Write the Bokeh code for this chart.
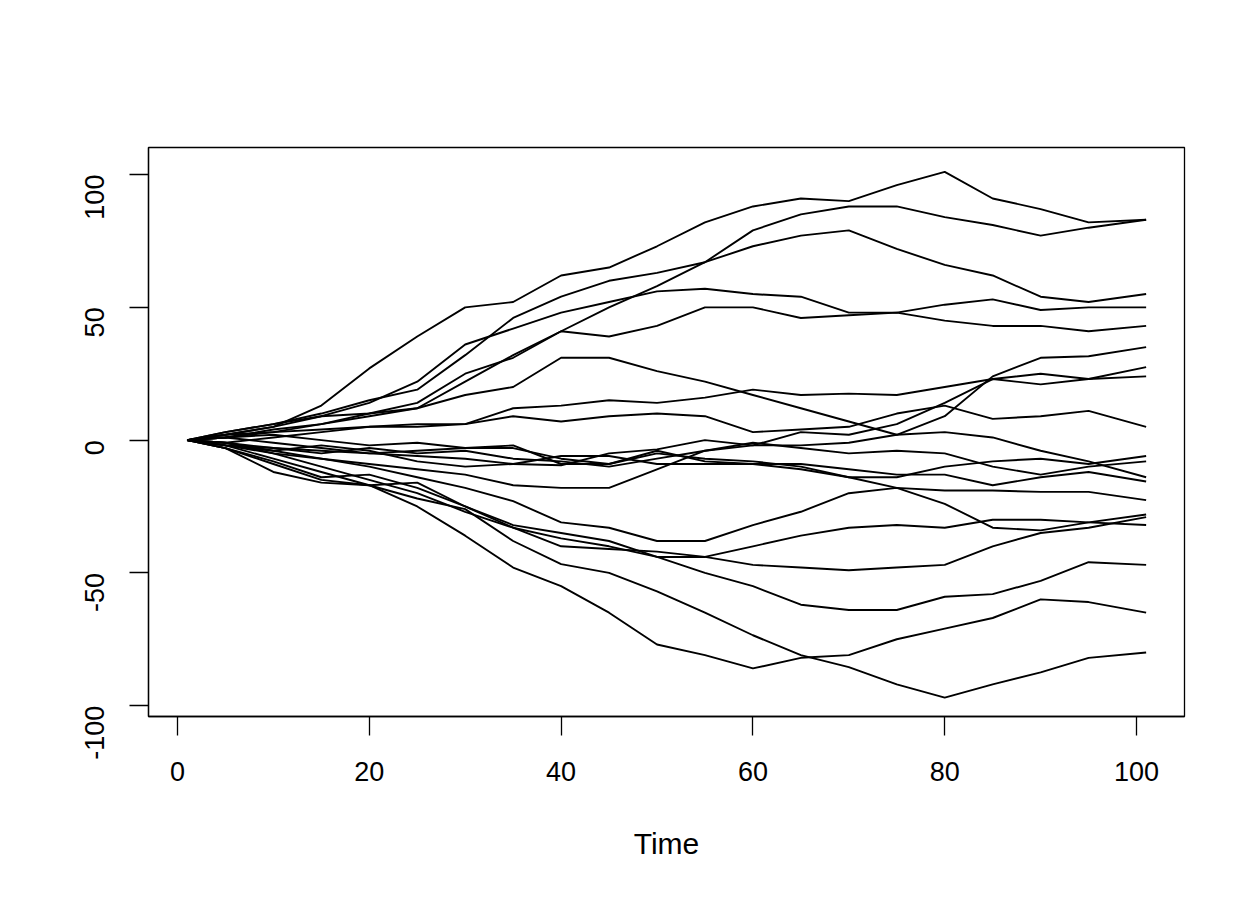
import math
from bokeh.plotting import figure
from bokeh.models import Range1d, FixedTicker
from bokeh.embed import file_html
from bokeh.resources import INLINE

# ---- data ----
time = [1, 5, 10, 15, 20, 25, 30, 35, 40, 45, 50, 55, 60, 65, 70, 75, 80, 85, 90, 95, 101]

s01 = [0, 2, 5, 13, 27, 39, 50, 52, 62, 65, 73, 82, 88, 91, 90, 96, 101, 91, 87, 82, 83]
s02 = [0, 1, 4, 6, 10, 14, 25, 31, 41, 50, 58, 67, 79, 85, 88, 88, 84, 81, 77, 80, 83]
s03 = [0, 3, 6, 10, 15, 19, 32, 46, 54, 60, 63, 67, 73, 77, 79, 72, 66, 62, 54, 52, 55]
s04 = [0, 2, 5, 9, 14, 22, 36, 42, 48, 52, 56, 57, 55, 54, 48, 48, 51, 53, 49, 50, 50]
s05 = [0, 1, 3, 6, 9, 12, 22, 32, 41, 39, 43, 50, 50, 46, 47, 48, 45, 43, 43, 41, 43]
s06 = [0, 3, 6, 9, 10, 12, 17, 20, 31, 31, 26, 22, 17, 12, 7, 2, 3, 1, -4, -8, -14]
s07 = [0, 2, 3, 4, 5, 6, 6, 12, 13, 15, 14, 16, 19, 17, 17.5, 17, 20, 23, 21, 23, 24]
s08 = [0, -1, 1, 3, 5, 5, 6, 9, 7, 9, 10, 9, 3, 4, 5, 10, 13, 8, 9, 11, 5]
s09 = [0, -1, -3, -4, -5, -6, -7, -9, -9.5, -5, -3.5, 0, -2, 3, 2, 6, 14, 23, 25, 23, 27.5]
s10 = [0, -2, -5, -7, -9, -11, -13, -17, -18, -18, -11, -4, -2, -2, -1, 2, 9, 24, 31, 31.6, 35]
s11 = [0, 1, 2, 0, -2, -1, -3, -2, -9, -9, -4, -8, -9, -11, -14, -14, -10, -8, -7, -9, -6]
s12 = [0, -2, -3, -5, -3, -5, -4, -7, -8, -10, -7, -4, -1, -3, -5, -4, -5, -10, -13, -10, -8]
s13 = [0, -1, -4, -2, -4, -8, -10, -9, -6, -6, -9, -9, -9, -9, -11, -13, -13, -17, -14, -12, -15.6]
s14 = [0, -2, -4, -7, -10, -14, -18, -23, -31, -33, -38, -38, -32, -27, -20, -18, -19, -19, -19.5, -19.5, -22.6]
s15 = [0, 1, -1, -3, -5, -4, -3, -3, -7, -9, -5, -7, -8, -10, -14, -18, -24, -33, -34, -31, -28]
s16 = [0, -1, -5, -10, -15, -20, -27, -33, -40, -41, -42, -44, -47, -48, -49, -48, -47, -40, -35, -33, -29]
s17 = [0, -3, -8, -14, -13, -18, -25, -32, -35, -38, -44, -44, -40, -36, -33, -32, -33, -30, -30, -31, -32]
s18 = [0, -2, -7, -12, -17, -16, -25, -33, -37, -40, -44, -50, -55, -62, -64, -64, -59, -58, -53, -46, -47]
s19 = [0, -3, -9, -15, -17, -22, -26, -38, -46.7, -50, -57, -65, -73.5, -81, -85.5, -92, -97, -92, -87.5, -82, -80]
s20 = [0, -3, -12, -16, -17, -25, -36, -48, -55, -65, -77, -81, -86, -82, -81, -75, -71, -67, -60, -61, -65]

series = [s01, s02, s03, s04, s05, s06, s07, s08, s09, s10,
          s11, s12, s13, s14, s15, s16, s17, s18, s19, s20]

x_ticks = [0, 20, 40, 60, 80, 100]
y_ticks = [-100, -50, 0, 50, 100]
y_tick_labels = ["-100", "-50", "0", "50", "100"]
x_label = "Time"

FONT = "Liberation Sans"

p = figure(width=1244, height=884, output_backend="svg", toolbar_location=None,
           x_range=Range1d(-3.02, 105.0), y_range=Range1d(-104.1, 110.2),
           min_border_left=148, min_border_right=60,
           min_border_top=147, min_border_bottom=168)
p.background_fill_color = "white"
p.border_fill_color = "white"
p.grid.visible = False
p.outline_line_color = "black"
p.outline_line_width = 1.3

for s in series:
    p.line(time, s, line_color="black", line_width=1.9)

for ax in (p.xaxis[0], p.yaxis[0]):
    ax.axis_line_color = "black"
    ax.axis_line_width = 1.3
    ax.major_tick_line_color = "black"
    ax.major_tick_line_width = 1.3
    ax.major_tick_out = 19
    ax.major_tick_in = 0
    ax.minor_tick_out = 0
    ax.minor_tick_in = 0
    ax.major_label_text_font = FONT
    ax.major_label_text_font_size = "27px"
    ax.major_label_text_color = "black"

p.xaxis.ticker = FixedTicker(ticks=x_ticks)
p.yaxis.ticker = FixedTicker(ticks=y_ticks)
p.yaxis.major_label_overrides = {t: lab for t, lab in zip(y_ticks, y_tick_labels)}
p.xaxis.major_label_standoff = 26
p.yaxis.major_label_standoff = 35
p.yaxis.major_label_orientation = math.pi / 2

p.xaxis.axis_label = x_label
p.xaxis.axis_label_text_font = FONT
p.xaxis.axis_label_text_font_size = "30px"
p.xaxis.axis_label_text_font_style = "normal"
p.xaxis.axis_label_text_color = "black"
p.xaxis.axis_label_standoff = 43

open("out.html", "w").write(file_html(p, INLINE))
